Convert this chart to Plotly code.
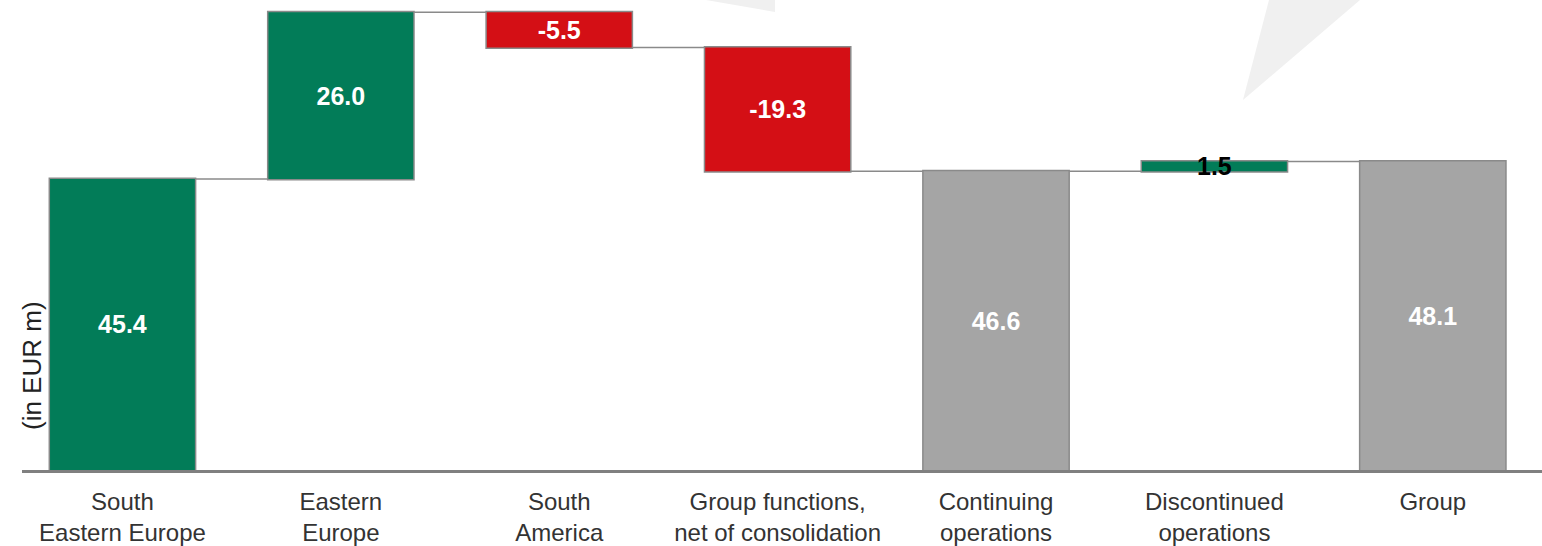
import plotly.graph_objects as go

categories = ["South<br>Eastern Europe", "Eastern<br>Europe", "South<br>America",
              "Group functions,<br>net of consolidation", "Continuing<br>operations",
              "Discontinued<br>operations", "Group"]
measures = ["relative", "relative", "relative", "relative", "total", "relative", "total"]
values = [45.4, 26.0, -5.5, -19.3, 46.6, 1.5, 48.1]
label_colors = ["white", "white", "white", "white", "white", "black", "white"]

GREEN = "#027c58"
RED = "#d40f15"
GREY = "#a5a5a5"
EDGE = "#8a8a8a"
FONT = "Liberation Sans, Arial, sans-serif"

L, R, T, B = 22, 0, 0, 76
W, H = 1542, 546
pw, ph = W - L - R, H - T - B

def px(x):
    return (x - L) / pw

def py(y):
    return (H - B - y) / ph

fig = go.Figure(go.Waterfall(
    x=categories,
    y=values,
    measure=measures,
    text=[f"<b>{v:.1f}</b>" for v in values],
    textposition="inside",
    insidetextanchor="middle",
    insidetextfont=dict(family=FONT, size=25, color=label_colors),
    textfont=dict(family=FONT, size=25, color=label_colors),
    increasing=dict(marker=dict(color=GREEN, line=dict(color=EDGE, width=1.5))),
    decreasing=dict(marker=dict(color=RED, line=dict(color=EDGE, width=1.5))),
    totals=dict(marker=dict(color=GREY, line=dict(color=EDGE, width=1.5))),
    connector=dict(line=dict(color="#8a8a8a", width=1.5)),
    width=0.67,
    hoverinfo="skip",
))

shapes = [
    dict(type="path", xref="paper", yref="paper", layer="below", line=dict(width=0),
         fillcolor="#f0f0f0",
         path=f"M {px(706)} {py(0)} L {px(775)} {py(0)} L {px(775)} {py(12)} Z"),
    dict(type="path", xref="paper", yref="paper", layer="below", line=dict(width=0),
         fillcolor="#f0f0f0",
         path=f"M {px(1269)} {py(0)} L {px(1360)} {py(0)} L {px(1243)} {py(100)} Z"),
]

fig.update_layout(
    width=W, height=H,
    margin=dict(l=L, r=R, t=T, b=B, pad=0),
    paper_bgcolor="white", plot_bgcolor="rgba(0,0,0,0)",
    showlegend=False,
    font=dict(family=FONT, size=24, color="#333333"),
    uniformtext=dict(minsize=25, mode="show"),
    shapes=shapes,
    xaxis=dict(range=[-0.46, 6.5], showline=True, linecolor="#808080", linewidth=3,
               ticks="outside", ticklen=8, tickcolor="rgba(0,0,0,0)",
               tickfont=dict(family=FONT, size=24, color="#333333"),
               showgrid=False, zeroline=False, fixedrange=True),
    yaxis=dict(range=[0, 73.3], showticklabels=False, showgrid=False, zeroline=False,
               ticks="", showline=False, fixedrange=True),
    annotations=[dict(text="(in EUR m)", xref="paper", yref="paper",
                      x=px(32), y=py(366), textangle=-90, showarrow=False,
                      xanchor="center", yanchor="middle",
                      font=dict(family=FONT, size=26, color="#222222"))],
)

fig.write_html("out.html", config={"displayModeBar": False},
               post_script="document.body.style.margin='0';document.body.style.overflow='hidden';")
